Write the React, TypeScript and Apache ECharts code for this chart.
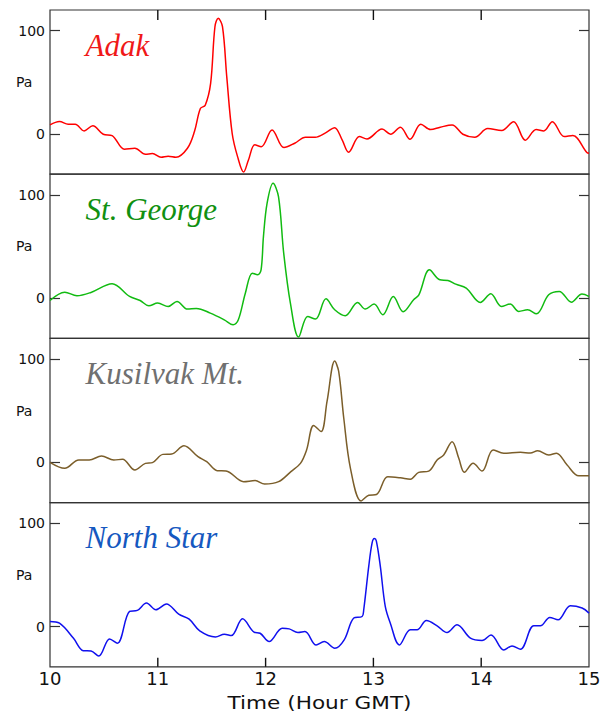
import React, { useEffect, useRef } from 'react';
import * as echarts from 'echarts';

const stationNames = ['Adak', 'St. George', 'Kusilvak Mt.', 'North Star'];
const lineColors = ['#ff0000', '#11bb11', '#7b5e2a', '#1010ee'];
const nameColors = ['#f01818', '#109010', '#707070', '#1558c0'];

const adak: [number, number][] = [
  [10.0, 8.7], [10.088, 12], [10.169, 9.4], [10.234, 9.4], [10.316, 2.9], [10.397, 8],
  [10.494, -0.3], [10.576, -1.6], [10.69, -14.8], [10.787, -13.9], [10.885, -19.7],
  [10.95, -19], [11.03, -22.6], [11.096, -21.6], [11.168, -22.6], [11.275, -13.9],
  [11.34, 2.3], [11.395, 24.6], [11.44, 27.8], [11.49, 48.9], [11.53, 103.8], [11.56, 112],
  [11.6, 103.8], [11.64, 55], [11.69, 0.4], [11.74, -22], [11.796, -36.9], [11.84, -25.5],
  [11.90, -10.6], [11.96, -12.3], [12.06, 3.9], [12.17, -13.2], [12.27, -9], [12.37, -3.2],
  [12.46, -3.2], [12.56, 1.3], [12.64, 6.1], [12.71, -5.8], [12.77, -17.7], [12.87, -2.6],
  [12.94, -4.8], [13.08, 4.8], [13.16, -0.3], [13.25, 6.5], [13.34, -5.2], [13.44, 9.4],
  [13.53, 4.2], [13.62, 6.5], [13.73, 8.7], [13.83, -0.3], [13.94, -3.2], [14.06, 5.2],
  [14.19, 3.2], [14.30, 11.9], [14.41, -6.1], [14.51, 4.2], [14.58, 2.9], [14.66, 11.9],
  [14.77, -2.6], [14.85, -1.6], [14.98, -18], [15.0, -18.7],
];

const stGeorge: [number, number][] = [
  [10.0, -2.3], [10.137, 5.8], [10.25, 2.3], [10.38, 5.5], [10.576, 13.9], [10.738, 1.6],
  [10.836, -2.3], [10.917, -7.4], [10.999, -4.8], [11.096, -8.1], [11.178, -3.2],
  [11.275, -10.6], [11.357, -10], [11.487, -14.5], [11.617, -21], [11.698, -25.8],
  [11.747, -21], [11.812, 4.8], [11.877, 24.2], [11.926, 22.6], [11.958, 27.4],
  [11.98, 59.6], [12.014, 92], [12.069, 111.3], [12.12, 98], [12.168, 43.5], [12.23, -4.8],
  [12.306, -37.7], [12.39, -17.7], [12.463, -20.3], [12.56, -0.6], [12.641, -11.3],
  [12.739, -17.1], [12.853, -4.2], [12.925, -10.6], [13.006, -5.8], [13.087, -16.1],
  [13.185, 1.6], [13.276, -13.2], [13.373, -1.6], [13.422, 3.2], [13.52, 27.4],
  [13.617, 17.7], [13.692, 17.1], [13.764, 13.5], [13.861, 9.7], [13.992, -4.2],
  [14.089, 4.2], [14.187, -8.1], [14.268, -5.8], [14.349, -12.9], [14.43, -11.3],
  [14.512, -15.2], [14.626, 3.2], [14.724, 6.5], [14.837, -3.9], [14.935, 3.9], [15.0, 1.6],
];

const kusilvak: [number, number][] = [
  [10.0, 0], [10.137, -5.8], [10.267, 2.3], [10.364, 2.3], [10.478, 6.1], [10.592, 2.3],
  [10.673, 2.9], [10.787, -7.4], [10.885, -1], [10.95, -0.3], [11.047, 7.7], [11.129, 8.1],
  [11.243, 16.1], [11.373, 5.5], [11.454, 0.6], [11.552, -8.1], [11.633, -8.4],
  [11.796, -18.7], [11.903, -17.7], [11.991, -21], [12.121, -18.7], [12.235, -9],
  [12.323, -1], [12.38, 11.9], [12.446, 35.7], [12.515, 29.8], [12.57, 59], [12.641, 98],
  [12.678, 88], [12.725, 42.9], [12.787, -5.8], [12.886, -37.4], [12.957, -31.9],
  [13.028, -31.2], [13.133, -14], [13.25, -15], [13.343, -16.3], [13.42, -9.7],
  [13.513, -8.5], [13.591, 2.2], [13.652, 7.1], [13.73, 20], [13.792, 3.9], [13.844, -9.7],
  [13.925, -1], [14.008, -8.5], [14.11, 12], [14.209, 8.8], [14.364, 9.7], [14.456, 9],
  [14.524, 11.3], [14.627, 7.1], [14.698, 8.8], [14.797, -2.6], [14.905, -13], [15.0, -13],
];

const northStar: [number, number][] = [
  [10.0, 4.9], [10.088, 3.2], [10.218, -11.4], [10.309, -23.4], [10.381, -23.7],
  [10.452, -28.6], [10.553, -12], [10.625, -16.2], [10.738, 14.6], [10.81, 15.6],
  [10.895, 22.7], [10.982, 16.2], [11.08, 21.8], [11.194, 12], [11.291, 7.1],
  [11.389, -4.2], [11.535, -10.1], [11.617, -7.5], [11.682, -8.8], [11.786, 7.5],
  [11.893, -5.5], [11.949, -6.5], [12.033, -14.6], [12.154, -1.6], [12.219, -2.3],
  [12.30, -5.8], [12.365, -4.9], [12.469, -17.9], [12.544, -14.6], [12.642, -21.1],
  [12.729, -13], [12.818, 8.2], [12.895, 9.7], [12.91, 16], [12.957, 58.5], [12.988, 81],
  [13.009, 85.2], [13.027, 83], [13.064, 58.5], [13.11, 19.5], [13.157, 3.2],
  [13.241, -17.8], [13.343, -3.2], [13.405, -3.2], [13.492, 5.8], [13.591, 0.7],
  [13.683, -5.8], [13.776, 1.7], [13.90, -11.3], [14.008, -13.6], [14.091, -8.1],
  [14.209, -22.7], [14.286, -18.8], [14.364, -22], [14.487, 0.7], [14.549, 0.7],
  [14.636, 8.8], [14.713, 6.5], [14.827, 20.2], [14.936, 17.9], [15.0, 13],
];

const seriesData = [adak, stGeorge, kusilvak, northStar];
const yTickValues = [0, 100];
const xTickValues = [11, 12, 13, 14];
const yMin = -39;
const yMax = 120;
const xMin = 10;
const xMax = 15;
const xTitle = 'Time (Hour GMT)';
const yUnit = 'Pa';

export default function App() {
  const ref = useRef<HTMLDivElement>(null);
  useEffect(() => {
    const chart = echarts.init(ref.current!, null, { renderer: 'svg' });
    const TOP = 10;
    const H = 164.2;
    const LEFT = 50;
    const RIGHT = 22;
    const axisColor = '#333';
    const n = seriesData.length;
    const grids = seriesData.map((_, i) => ({
      left: LEFT,
      right: RIGHT,
      top: TOP + i * H,
      height: H,
      show: true,
      borderColor: axisColor,
      borderWidth: 1.2,
    }));

    const yAxes: any[] = [];
    seriesData.forEach((_, i) => {
      yAxes.push({
        type: 'value',
        gridIndex: i,
        min: yMin,
        max: yMax,
        position: 'left',
        axisLine: { show: false, onZero: false },
        splitLine: { show: false },
        axisTick: {
          show: true,
          inside: true,
          length: 10,
          customValues: yTickValues,
          lineStyle: { color: axisColor, width: 1.2 },
        },
        axisLabel: {
          show: true,
          customValues: yTickValues,
          fontFamily: 'DejaVu Sans',
          fontSize: 14,
          color: '#111',
          margin: 5,
        },
      });
    });
    seriesData.forEach((_, i) => {
      yAxes.push({
        type: 'value',
        gridIndex: i,
        min: yMin,
        max: yMax,
        position: 'right',
        axisLine: { show: false, onZero: false },
        splitLine: { show: false },
        axisTick: {
          show: true,
          inside: true,
          length: 10,
          customValues: yTickValues,
          lineStyle: { color: axisColor, width: 1.2 },
        },
        axisLabel: { show: false },
      });
    });

    const xAxes: any[] = seriesData.map((_, i) => ({
      type: 'value',
      gridIndex: i,
      min: xMin,
      max: xMax,
      interval: 1,
      position: 'bottom',
      axisLine: { show: false, onZero: false },
      splitLine: { show: false },
      axisTick: { show: false },
      axisLabel: {
        show: i === n - 1,
        fontFamily: 'DejaVu Sans',
        fontSize: 18,
        color: '#111',
        margin: 3,
        showMinLabel: true,
        showMaxLabel: true,
      },
    }));

    const lineSeries = seriesData.map((d, i) => ({
      type: 'line',
      name: stationNames[i],
      xAxisIndex: i,
      yAxisIndex: i,
      data: d,
      showSymbol: false,
      symbol: 'none',
      smooth: 0.35,
      lineStyle: { color: lineColors[i], width: 1.5 },
      z: 3,
    }));

    chart.setOption({
      animation: false,
      backgroundColor: '#ffffff',
      grid: grids,
      xAxis: xAxes,
      yAxis: yAxes,
      series: lineSeries,
    });

    const graphics: any[] = [];
    // x tick marks located through the axes' own scales, drawn as thin filled bars
    xTickValues.forEach((v) => {
      const top = chart.convertToPixel({ xAxisIndex: 0, yAxisIndex: 0 }, [v, yMax]) as number[];
      const bot = chart.convertToPixel({ xAxisIndex: n - 1, yAxisIndex: n - 1 }, [v, yMin]) as number[];
      graphics.push({
        type: 'rect',
        z: 100,
        shape: { x: top[0] - 0.7, y: top[1], width: 1.4, height: 10 },
        style: { fill: '#111' },
      });
      graphics.push({
        type: 'rect',
        z: 100,
        shape: { x: bot[0] - 0.7, y: bot[1] - 9, width: 1.4, height: 9 },
        style: { fill: '#111' },
      });
    });
    seriesData.forEach((_, i) => {
      const yPa = chart.convertToPixel({ yAxisIndex: i }, 50) as number;
      const yName = chart.convertToPixel({ yAxisIndex: i }, 86) as number;
      const xName = chart.convertToPixel({ xAxisIndex: i }, 10.33) as number;
      graphics.push({
        type: 'text',
        x: 16,
        y: yPa,
        style: {
          text: yUnit,
          fontFamily: 'DejaVu Sans',
          fontSize: 14,
          fill: '#111',
          verticalAlign: 'middle',
          align: 'left',
        },
      });
      graphics.push({
        type: 'text',
        x: xName,
        y: yName,
        style: {
          text: stationNames[i],
          fontFamily: 'Liberation Serif',
          fontStyle: 'italic',
          fontSize: 31,
          fill: nameColors[i],
          verticalAlign: 'middle',
          align: 'left',
        },
      });
    });
    const xMid = chart.convertToPixel({ xAxisIndex: n - 1 }, (xMin + xMax) / 2) as number;
    graphics.push({
      type: 'text',
      x: xMid,
      y: 703,
      scaleX: 1.2,
      style: {
        text: xTitle,
        fontFamily: 'DejaVu Sans',
        fontSize: 18,
        fill: '#111',
        align: 'center',
        verticalAlign: 'middle',
      },
    });
    chart.setOption({ graphic: graphics });

    return () => chart.dispose();
  }, []);
  return (
    <div
      ref={ref}
      style={{ position: 'fixed', left: 0, top: 0, width: 611, height: 718 }}
    />
  );
}
